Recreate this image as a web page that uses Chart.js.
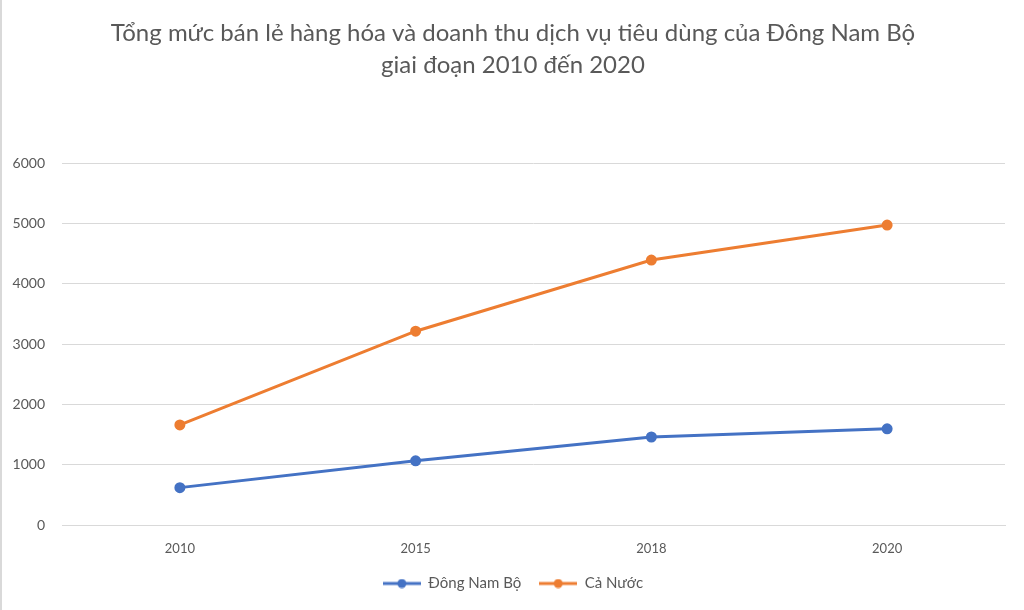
<!DOCTYPE html>
<html>
<head>
<meta charset="utf-8">
<script src="https://cdn.jsdelivr.net/npm/chart.js@4"></script>
<style>
  html, body { margin: 0; padding: 0; background: #fff; }
  .wrap { width: 1024px; height: 610px; box-sizing: border-box; border-left: 2px solid #d9d9d9; }
</style>
</head>
<body>
<div class="wrap"><canvas id="c" width="1022" height="610"></canvas></div>
<script>
// Tổng mức bán lẻ hàng hóa và doanh thu dịch vụ tiêu dùng — Đông Nam Bộ vs Cả Nước

const nam = ["2010", "2015", "2018", "2020"];
const dongNamBo = [620, 1065, 1460, 1595];
const caNuoc = [1660, 3215, 4395, 4975];
const yTicks = [0, 1000, 2000, 3000, 4000, 5000, 6000];

const xam = "#595959";
const luoi = "#d9d9d9";
const FONT = "Lato, 'Open Sans', sans-serif";

// ký hiệu chú giải: đoạn thẳng có chấm tròn ở giữa
function legendMark(color) {
  const cv = document.createElement("canvas");
  cv.width = 38; cv.height = 10;
  const g = cv.getContext("2d");
  g.strokeStyle = color; g.lineWidth = 3;
  g.beginPath(); g.moveTo(0, 5); g.lineTo(38, 5); g.stroke();
  g.fillStyle = color;
  g.beginPath(); g.arc(19, 5, 4.5, 0, Math.PI * 2); g.fill();
  return cv;
}

new Chart(document.getElementById("c"), {
  type: "line",
  data: {
    labels: nam,
    datasets: [
      { label: "Đông Nam Bộ", data: dongNamBo, borderColor: "#4472C4", backgroundColor: "#4472C4",
        borderWidth: 3, pointRadius: 4, pointHoverRadius: 4, tension: 0 },
      { label: "Cả Nước", data: caNuoc, borderColor: "#ED7D31", backgroundColor: "#ED7D31",
        borderWidth: 3, pointRadius: 4, pointHoverRadius: 4, tension: 0 }
    ]
  },
  options: {
    responsive: false, animation: false,
    layout: { padding: { left: 0, right: 0, top: 17, bottom: 9 } },
    plugins: {
      title: {
        display: true,
        text: ["Tổng mức bán lẻ hàng hóa và doanh thu dịch vụ tiêu dùng của Đông Nam Bộ", "giai đoạn 2010 đến 2020"],
        color: xam, font: { family: FONT, size: 24, weight: "normal", lineHeight: 1.34 },
        padding: { top: 0, bottom: 82 }
      },
      legend: {
        position: "bottom",
        labels: {
          color: xam, font: { family: FONT, size: 15 },
          usePointStyle: true, pointStyleWidth: 38, padding: 18,
          generateLabels: (chart) => chart.data.datasets.map((d, i) => ({
            text: d.label, pointStyle: legendMark(d.borderColor),
            datasetIndex: i, fontColor: xam, lineWidth: 0
          }))
        }
      },
      tooltip: { enabled: false }
    },
    scales: {
      x: {
        offset: true,
        afterFit: (ax) => { ax.height = 33; },
        grid: { display: false, drawTicks: false },
        border: { display: true, color: luoi, width: 1 },
        ticks: { color: xam, font: { family: FONT, size: 13 }, padding: 16 }
      },
      y: {
        min: 0, max: 6000,
        afterFit: (ax) => { ax.width = 60; },
        afterBuildTicks: (ax) => { ax.ticks = yTicks.map(v => ({ value: v })); },
        grid: { color: luoi, drawTicks: false },
        border: { display: false },
        ticks: { color: xam, font: { family: FONT, size: 14 }, padding: 17, callback: (v) => String(v) }
      },
      // trục phải rỗng, chỉ để chừa lề phải cho vùng vẽ
      yPhai: {
        position: "right", min: 0, max: 6000,
        afterFit: (ax) => { ax.width = 19; },
        grid: { display: false, drawTicks: false },
        border: { display: false },
        ticks: { display: false }
      }
    }
  }
});
</script>
</body>
</html>
